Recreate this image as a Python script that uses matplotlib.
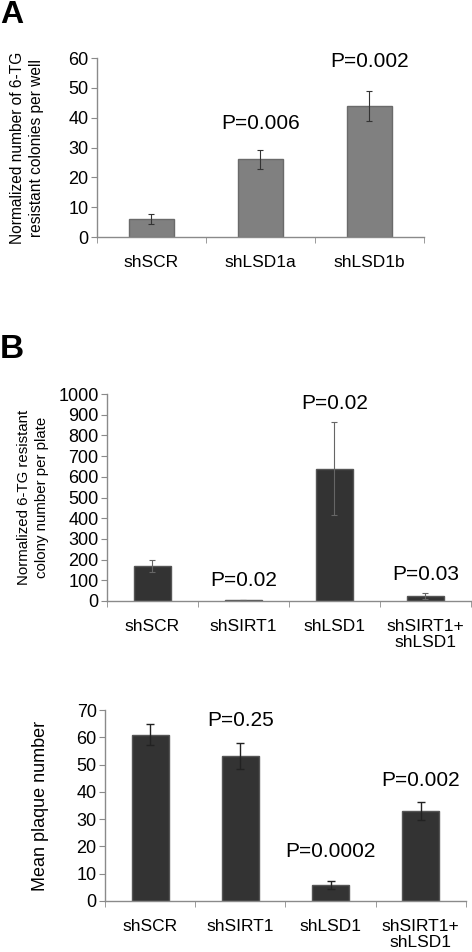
import matplotlib
matplotlib.use("Agg")
import matplotlib.pyplot as plt
import numpy as np

plt.rcParams['font.family'] = ['Liberation Sans', 'DejaVu Sans']

# Panel A data
a_cats = ["shSCR", "shLSD1a", "shLSD1b"]
a_vals = [6, 26, 44]
a_errs = [1.7, 3.3, 5.0]
a_pvals = ["", "P=0.006", "P=0.002"]
a_pvy = [None, 38.0, 59.0]

# Panel B data
b_cats = ["shSCR", "shSIRT1", "shLSD1", "shSIRT1+\nshLSD1"]
b_vals = [170, 5, 640, 25]
b_errs = [30, 2, 225, 13]
b_pvals = ["", "P=0.02", "P=0.02", "P=0.03"]
b_pvy = [None, 97, 952, 130]

# Panel C data
c_cats = ["shSCR", "shSIRT1", "shLSD1", "shSIRT1+\nshLSD1"]
c_vals = [61, 53, 6, 33]
c_errs = [4, 4.8, 1.5, 3.3]
c_pvals = ["", "P=0.25", "P=0.0002", "P=0.002"]
c_pvy = [None, 66, 18, 44.3]

fig = plt.figure(figsize=(4.72, 9.52), dpi=100)

spine_col = "#8a8a8a"


def style_axes(ax, n, ymax, yticks):
    ax.set_xlim(-0.5, n - 0.5)
    ax.set_ylim(0, ymax)
    for s in ["top", "right"]:
        ax.spines[s].set_visible(False)
    for s in ["left", "bottom"]:
        ax.spines[s].set_color(spine_col)
        ax.spines[s].set_linewidth(1.0)
    ax.set_yticks(yticks)
    ax.set_xticks(np.arange(n))
    ax.set_xticks(np.arange(n + 1) - 0.5, minor=True)
    ax.tick_params(axis='x', which='major', length=0, pad=13, labelsize=12.5)
    ax.tick_params(axis='x', which='minor', length=4, color=spine_col, direction='out')
    ax.tick_params(axis='y', length=4, color=spine_col, direction='out', labelsize=13, pad=2)


def draw(ax, cats, vals, errs, pvals, pvy, color, edge, ecol, ymax, yticks, capsize, elw):
    x = np.arange(len(cats))
    ax.bar(x, vals, width=0.41, color=color, edgecolor=edge, linewidth=1.0, zorder=2)
    ax.errorbar(x, vals, yerr=errs, fmt='none', ecolor=ecol, elinewidth=elw,
                capsize=capsize, capthick=elw, zorder=3)
    style_axes(ax, len(cats), ymax, yticks)
    ax.set_xticklabels(cats, linespacing=1.12)
    for xi, p, py in zip(x, pvals, pvy):
        if p:
            ax.text(xi, py, p, ha='center', va='center', fontsize=15)


axA = fig.add_axes([0.2055, 0.751, 0.6925, 0.188])
draw(axA, a_cats, a_vals, a_errs, a_pvals, a_pvy, "#808080", "#6a6a6a", "#333333",
     60, np.arange(0, 61, 10), 2.5, 0.8)
axA.set_ylabel("Normalized number of 6-TG\nresistant colonies per well", fontsize=11.2,
               linespacing=1.3)
axA.yaxis.set_label_coords(-0.163, 0.5)

axB = fig.add_axes([0.2267, 0.3687, 0.771, 0.2174])
draw(axB, b_cats, b_vals, b_errs, b_pvals, b_pvy, "#333333", "#555555", "#666666",
     1000, np.arange(0, 1001, 100), 2.5, 0.8)
axB.set_ylabel("Normalized 6-TG resistant\ncolony number per plate", fontsize=10.8,
               linespacing=1.3)
axB.yaxis.set_label_coords(-0.16, 0.5)

axC = fig.add_axes([0.2225, 0.0536, 0.7645, 0.2006])
draw(axC, c_cats, c_vals, c_errs, c_pvals, c_pvy, "#333333", "#555555", "#222222",
     70, np.arange(0, 71, 10), 3.0, 1.0)
axC.set_ylabel("Mean plaque number", fontsize=13)
axC.yaxis.set_label_coords(-0.155, 0.5)

fig.text(0.0, 1.0, "A", fontsize=23, fontweight='bold', ha='left', va='top')
fig.text(0.0, 1 - 350 / 952, "B", fontsize=24, fontweight='bold', ha='left', va='center')

fig.savefig("out.png", dpi=100)
